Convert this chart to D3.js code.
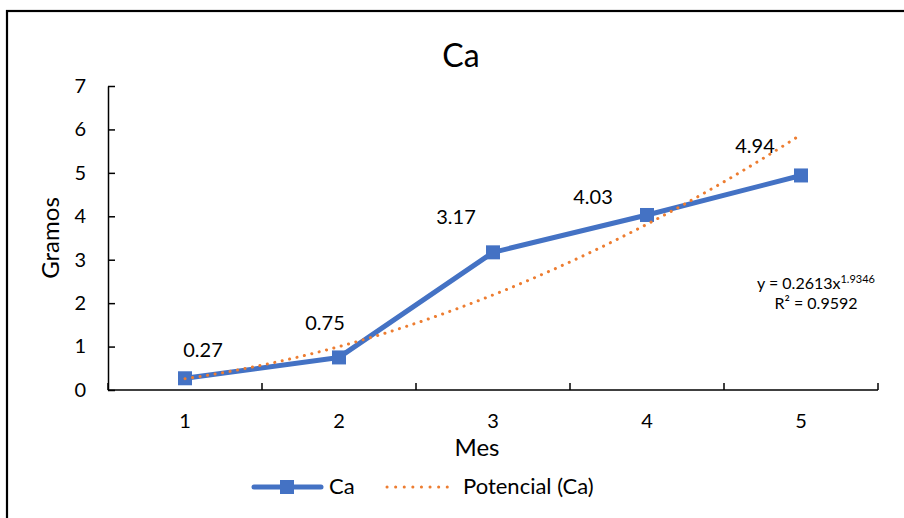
<!DOCTYPE html>
<html>
<head>
<meta charset="utf-8">
<script src="https://cdn.jsdelivr.net/npm/d3@7/dist/d3.min.js"></script>
<style>
  html, body { margin: 0; padding: 0; background: #fff; }
  svg { display: block; font-family: Lato, "Open Sans", sans-serif; }
</style>
</head>
<body>
<svg id="chart" width="904" height="518"></svg>
<script>
// ---- data ----
const categories = ["1", "2", "3", "4", "5"];
const caValues = [0.27, 0.75, 3.17, 4.03, 4.94];
const yTicks = [0, 1, 2, 3, 4, 5, 6, 7];
const trendCoefA = 0.2613;   // from "y = 0.2613x^1.9346"
const trendCoefB = 1.9346;
const trendR2 = "0.9592";
const labelOffsets = [[18, -21], [-14, -27], [-37, -28], [-54, -11], [-46, -22]];

const svg = d3.select("#chart");
const W = 904, H = 518;
const blue = "#4472C4", orange = "#ED7D31";

// chart border (left and top visible)
svg.append("rect").attr("x", 7).attr("y", 11).attr("width", W + 20).attr("height", H + 20)
  .attr("fill", "none").attr("stroke", "#000").attr("stroke-width", 2.2);

const x = d3.scaleBand().domain(categories).range([108, 878]);
const y = d3.scaleLinear().domain([0, 7]).range([390, 86]);
const cx = c => x(c) + x.bandwidth() / 2;
const xNum = d3.scaleLinear().domain([1, 5]).range([cx("1"), cx("5")]);

// title
svg.append("text").attr("x", 461).attr("y", 67).attr("text-anchor", "middle")
  .attr("font-size", 32).attr("fill", "#000").text("Ca");

// y axis
const yAxis = d3.axisLeft(y).tickValues(yTicks).tickFormat(d3.format("d"))
  .tickSizeInner(-7).tickSizeOuter(0).tickPadding(22);
const gy = svg.append("g").attr("transform", "translate(108,0)").call(yAxis);
gy.selectAll("text").attr("font-size", 20).attr("fill", "#000").attr("font-family", "Lato, sans-serif");
gy.selectAll("line").attr("stroke", "#000").attr("stroke-width", 1.5);
gy.select(".domain").attr("stroke", "#000").attr("stroke-width", 1.5);

// x axis labels
const xAxis = d3.axisBottom(x).tickSize(0).tickPadding(24);
const gx = svg.append("g").attr("transform", "translate(0,390)").call(xAxis);
gx.select(".domain").remove();
gx.selectAll("text").attr("font-size", 20).attr("fill", "#000").attr("font-family", "Lato, sans-serif");
// x axis line and boundary ticks
svg.append("line").attr("x1", 108).attr("x2", 878).attr("y1", 390).attr("y2", 390)
  .attr("stroke", "#000").attr("stroke-width", 1.5);
const bounds = categories.map(c => x(c)).concat([x.range()[1]]);
svg.selectAll(".xtick").data(bounds).enter().append("line")
  .attr("x1", d => d).attr("x2", d => d).attr("y1", 390).attr("y2", 383)
  .attr("stroke", "#000").attr("stroke-width", 1.5);

// axis titles
svg.append("text").attr("x", 477).attr("y", 456).attr("text-anchor", "middle")
  .attr("font-size", 24).attr("fill", "#000").text("Mes");
svg.append("text").attr("transform", "translate(59,238) rotate(-90)").attr("text-anchor", "middle")
  .attr("font-size", 24).attr("fill", "#000").text("Gramos");

// data line
const line = d3.line().x((d, i) => cx(categories[i])).y(d => y(d));
svg.append("path").datum(caValues).attr("d", line).attr("fill", "none")
  .attr("stroke", blue).attr("stroke-width", 5).attr("stroke-linejoin", "round");
svg.selectAll(".mk").data(caValues).enter().append("rect")
  .attr("x", (d, i) => cx(categories[i]) - 7).attr("y", d => y(d) - 7)
  .attr("width", 14).attr("height", 14).attr("fill", blue);

// trendline (power fit)
const trendXs = d3.range(1, 5.0001, 0.05);
const trendLine = d3.line().x(t => xNum(t)).y(t => y(trendCoefA * Math.pow(t, trendCoefB))).curve(d3.curveMonotoneX);
svg.append("path").datum(trendXs).attr("d", trendLine).attr("fill", "none")
  .attr("stroke", orange).attr("stroke-width", 3).attr("stroke-dasharray", "0.1 7.5")
  .attr("stroke-linecap", "round");

// data labels
svg.selectAll(".lbl").data(caValues).enter().append("text")
  .attr("x", (d, i) => cx(categories[i]) + labelOffsets[i][0])
  .attr("y", (d, i) => y(d) + labelOffsets[i][1])
  .attr("text-anchor", "middle").attr("font-size", 20).attr("fill", "#000")
  .text(d => d3.format(".2f")(d));

// equation
const eq = svg.append("text").attr("x", 816).attr("y", 289).attr("text-anchor", "middle")
  .attr("font-size", 16).attr("fill", "#000");
eq.append("tspan").text("y = " + trendCoefA + "x");
eq.append("tspan").attr("font-size", 11).attr("dy", -6).text(String(trendCoefB));
svg.append("text").attr("x", 816).attr("y", 309).attr("text-anchor", "middle")
  .attr("font-size", 16).attr("fill", "#000").text("R² = " + trendR2);

// legend
const lg = svg.append("g");
lg.append("line").attr("x1", 254).attr("x2", 321).attr("y1", 487).attr("y2", 487)
  .attr("stroke", blue).attr("stroke-width", 5).attr("stroke-linecap", "round");
lg.append("rect").attr("x", 280).attr("y", 480).attr("width", 14).attr("height", 14).attr("fill", blue);
lg.append("text").attr("x", 329).attr("y", 494).attr("font-size", 22).attr("fill", "#000").text("Ca");
lg.append("line").attr("x1", 387).attr("x2", 455).attr("y1", 487).attr("y2", 487)
  .attr("stroke", orange).attr("stroke-width", 3).attr("stroke-dasharray", "0.1 8.5")
  .attr("stroke-linecap", "round");
lg.append("text").attr("x", 463).attr("y", 494).attr("font-size", 22).attr("fill", "#000").text("Potencial (Ca)");
</script>
</body>
</html>
